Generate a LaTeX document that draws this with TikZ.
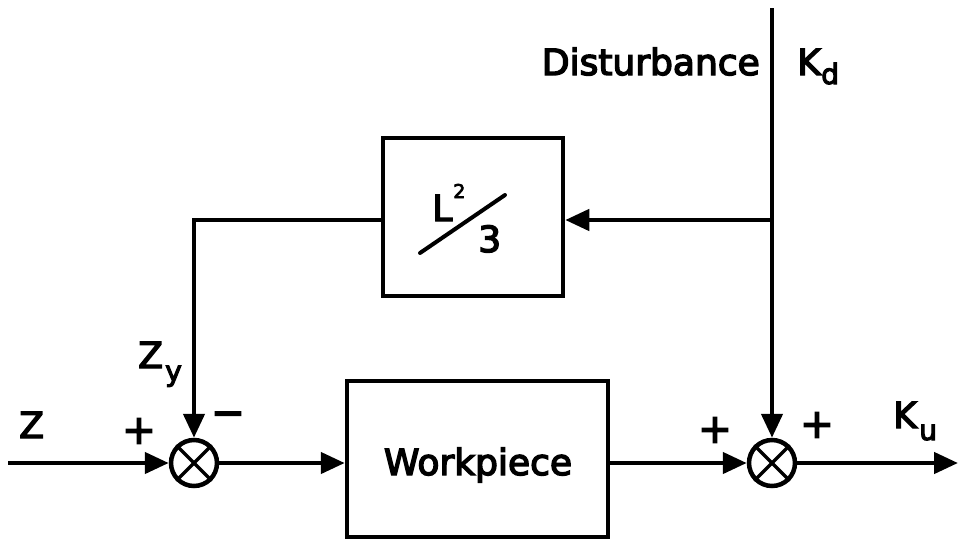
\documentclass[tikz,border=0pt]{standalone}
\usepackage{fontspec}
\setmainfont{DejaVu Sans}[FakeBold=4]
\usetikzlibrary{arrows.meta}
\begin{document}
\begin{tikzpicture}[x=1pt,y=-1pt,line width=4.5pt,
  arr/.style={-{Triangle[length=24pt,width=21pt]}},
  blk/.style={draw,line width=4.5pt,inner sep=0pt,rectangle},
  sumj/.style={draw,circle,line width=4.5pt,minimum size=46pt,inner sep=0pt},
  lbl/.style={inner sep=0pt,font=\fontsize{36}{36}\selectfont},
  sub/.style={inner sep=0pt,font=\fontsize{28}{28}\selectfont},
  sup/.style={inner sep=0pt,font=\fontsize{19}{19}\selectfont},
  sgn/.style={inner sep=0pt,font=\fontsize{40}{40}\selectfont}]
\useasboundingbox (0,0) rectangle (964,539);
% blocks
\node[blk,minimum width=261pt,minimum height=156pt] (wp) at (477.5,459) {};
\node[blk,minimum width=180pt,minimum height=158pt] (lb) at (473,217) {};
\node[lbl,anchor=base] (wptext) at (478,475) {Workpiece};
% L^2/3
\node[lbl,anchor=base west] (Lt) at (430,221) {L};
\node[sup,anchor=base west] (two) at (451,198) {2};
\node[lbl,anchor=base west] (three) at (476,252) {3};
\coordinate (sla) at (420,253);
\coordinate (slb) at (505,195);
\draw[line width=4pt,line cap=round] (sla) -- (slb);
% summing junctions
\node[sumj] (s1) at (194,463) {};
\node[sumj] (s2) at (772,463) {};
\foreach \s in {s1,s2}{
  \draw[line width=3.5pt] (\s.north west) -- (\s.south east);
  \draw[line width=3.5pt] (\s.north east) -- (\s.south west);
}
% coordinates
\coordinate (zin) at (8,463);
\coordinate (kout) at (958,463);
\coordinate (dtop) at (772,8);
\coordinate (br) at (772,220);
% connectors
\draw[arr] (zin) -- (s1.west);
\draw[arr] (s1.east) -- (s1.east -| wp.west);
\draw[arr] (s2.west -| wp.east) -- (s2.west);
\draw[arr] (s2.east) -- (kout);
\draw[arr] (dtop) -- (s2.north);
\draw[arr] (br) -- (br -| lb.east);
\draw[arr] (lb.west |- br) -| (s1.north);
% labels
\node[lbl,anchor=base east] (dist) at (762,75) {Disturbance};
\node[lbl,anchor=base west] (kd) at (795,75) {K};
\node[sub,anchor=base west] (kdsub) at (819,84) {d};
\node[lbl,anchor=base west] (zlab) at (17,438) {Z};
\node[lbl,anchor=base west] (zy) at (136,368) {Z};
\node[sub,anchor=base west] (zysub) at (163,381) {y};
\node[lbl,anchor=base west] (ku) at (891,428) {K};
\node[sub,anchor=base west] (kusub) at (917,440) {u};
\node[sgn] (p1) at (139,431) {+};
\node[sgn] (m1) at (228,419) {−};
\node[sgn] (p2) at (715,430) {+};
\node[sgn] (p3) at (817,425) {+};
\end{tikzpicture}
\end{document}
